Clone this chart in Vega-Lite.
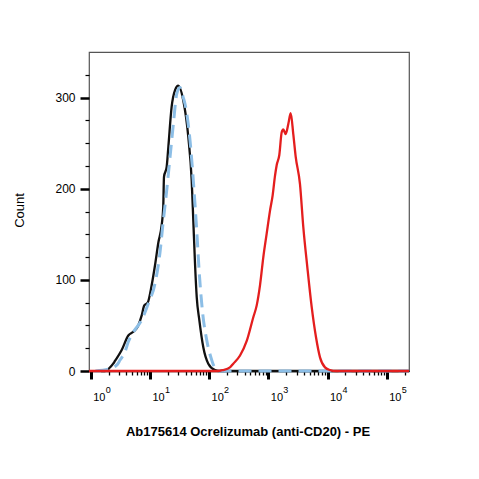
{
  "$schema": "https://vega.github.io/schema/vega-lite/v6.json",
  "width": 320,
  "height": 319,
  "autosize": {"type": "none"},
  "padding": {"left": 89, "top": 52, "right": 70, "bottom": 108},
  "background": "white",
  "config": {
    "view": {"stroke": "#555555", "strokeWidth": 1.2},
    "font": "Liberation Sans",
    "axis": {
      "grid": false,
      "labelFont": "Liberation Sans",
      "titleFont": "Liberation Sans",
      "labelColor": "#000000",
      "titleColor": "#000000",
      "tickColor": "#000000",
      "domainColor": "#000000"
    }
  },
  "data": {
    "values": [
      {"series": "Unstained", "intensity": 1.5, "count": 0},
      {"series": "Unstained", "intensity": 1.74, "count": 0},
      {"series": "Unstained", "intensity": 2.05, "count": 3},
      {"series": "Unstained", "intensity": 2.4, "count": 8},
      {"series": "Unstained", "intensity": 2.57, "count": 11},
      {"series": "Unstained", "intensity": 3.34, "count": 23},
      {"series": "Unstained", "intensity": 4.32, "count": 39},
      {"series": "Unstained", "intensity": 5.24, "count": 43},
      {"series": "Unstained", "intensity": 6.37, "count": 50},
      {"series": "Unstained", "intensity": 7.27, "count": 61},
      {"series": "Unstained", "intensity": 8.04, "count": 72},
      {"series": "Unstained", "intensity": 9.18, "count": 75},
      {"series": "Unstained", "intensity": 10.7, "count": 94},
      {"series": "Unstained", "intensity": 12.2, "count": 116},
      {"series": "Unstained", "intensity": 13.9, "count": 141},
      {"series": "Unstained", "intensity": 15.8, "count": 160},
      {"series": "Unstained", "intensity": 16.8, "count": 180},
      {"series": "Unstained", "intensity": 17.3, "count": 213},
      {"series": "Unstained", "intensity": 19.2, "count": 224},
      {"series": "Unstained", "intensity": 20.5, "count": 246},
      {"series": "Unstained", "intensity": 23.3, "count": 290},
      {"series": "Unstained", "intensity": 26.5, "count": 308},
      {"series": "Unstained", "intensity": 30.2, "count": 313},
      {"series": "Unstained", "intensity": 36.6, "count": 297},
      {"series": "Unstained", "intensity": 44.5, "count": 257},
      {"series": "Unstained", "intensity": 50.8, "count": 209},
      {"series": "Unstained", "intensity": 54.1, "count": 165},
      {"series": "Unstained", "intensity": 57.8, "count": 118},
      {"series": "Unstained", "intensity": 61.8, "count": 81},
      {"series": "Unstained", "intensity": 68.3, "count": 56},
      {"series": "Unstained", "intensity": 79.8, "count": 26},
      {"series": "Unstained", "intensity": 96.9, "count": 8},
      {"series": "Unstained", "intensity": 125.9, "count": 1},
      {"series": "Unstained", "intensity": 150, "count": 0},
      {"series": "Unstained", "intensity": 238000, "count": 0},
      {"series": "Isotype control", "intensity": 1.2, "count": 0},
      {"series": "Isotype control", "intensity": 2.0, "count": 2},
      {"series": "Isotype control", "intensity": 2.8, "count": 7},
      {"series": "Isotype control", "intensity": 3.13, "count": 12},
      {"series": "Isotype control", "intensity": 3.8, "count": 21},
      {"series": "Isotype control", "intensity": 4.32, "count": 32},
      {"series": "Isotype control", "intensity": 5.3, "count": 43},
      {"series": "Isotype control", "intensity": 7.27, "count": 56},
      {"series": "Isotype control", "intensity": 9.4, "count": 74},
      {"series": "Isotype control", "intensity": 12.2, "count": 96},
      {"series": "Isotype control", "intensity": 14.8, "count": 130},
      {"series": "Isotype control", "intensity": 16.4, "count": 158},
      {"series": "Isotype control", "intensity": 19.2, "count": 198},
      {"series": "Isotype control", "intensity": 21.9, "count": 235},
      {"series": "Isotype control", "intensity": 24.9, "count": 271},
      {"series": "Isotype control", "intensity": 28.4, "count": 304},
      {"series": "Isotype control", "intensity": 32.2, "count": 311},
      {"series": "Isotype control", "intensity": 36.6, "count": 300},
      {"series": "Isotype control", "intensity": 39.2, "count": 293},
      {"series": "Isotype control", "intensity": 47.6, "count": 253},
      {"series": "Isotype control", "intensity": 54.1, "count": 209},
      {"series": "Isotype control", "intensity": 61.8, "count": 154},
      {"series": "Isotype control", "intensity": 68.3, "count": 107},
      {"series": "Isotype control", "intensity": 78.0, "count": 63},
      {"series": "Isotype control", "intensity": 91.1, "count": 34},
      {"series": "Isotype control", "intensity": 110.7, "count": 12},
      {"series": "Isotype control", "intensity": 125.9, "count": 3},
      {"series": "Isotype control", "intensity": 150, "count": 0},
      {"series": "Isotype control", "intensity": 238000, "count": 0},
      {"series": "Ocrelizumab PE", "intensity": 0.936, "count": 0},
      {"series": "Ocrelizumab PE", "intensity": 140, "count": 0},
      {"series": "Ocrelizumab PE", "intensity": 170, "count": 1},
      {"series": "Ocrelizumab PE", "intensity": 225, "count": 4},
      {"series": "Ocrelizumab PE", "intensity": 256, "count": 8},
      {"series": "Ocrelizumab PE", "intensity": 333, "count": 17},
      {"series": "Ocrelizumab PE", "intensity": 432, "count": 33},
      {"series": "Ocrelizumab PE", "intensity": 558, "count": 59},
      {"series": "Ocrelizumab PE", "intensity": 637, "count": 72},
      {"series": "Ocrelizumab PE", "intensity": 724, "count": 94},
      {"series": "Ocrelizumab PE", "intensity": 824, "count": 125},
      {"series": "Ocrelizumab PE", "intensity": 940, "count": 151},
      {"series": "Ocrelizumab PE", "intensity": 1069, "count": 176},
      {"series": "Ocrelizumab PE", "intensity": 1186, "count": 193},
      {"series": "Ocrelizumab PE", "intensity": 1297, "count": 214},
      {"series": "Ocrelizumab PE", "intensity": 1387, "count": 226},
      {"series": "Ocrelizumab PE", "intensity": 1534, "count": 237},
      {"series": "Ocrelizumab PE", "intensity": 1684, "count": 262},
      {"series": "Ocrelizumab PE", "intensity": 1791, "count": 265},
      {"series": "Ocrelizumab PE", "intensity": 1967, "count": 260},
      {"series": "Ocrelizumab PE", "intensity": 2177, "count": 271},
      {"series": "Ocrelizumab PE", "intensity": 2388, "count": 283},
      {"series": "Ocrelizumab PE", "intensity": 2642, "count": 260},
      {"series": "Ocrelizumab PE", "intensity": 2904, "count": 235},
      {"series": "Ocrelizumab PE", "intensity": 3429, "count": 205},
      {"series": "Ocrelizumab PE", "intensity": 3900, "count": 158},
      {"series": "Ocrelizumab PE", "intensity": 4560, "count": 114},
      {"series": "Ocrelizumab PE", "intensity": 5410, "count": 70},
      {"series": "Ocrelizumab PE", "intensity": 6394, "count": 37},
      {"series": "Ocrelizumab PE", "intensity": 7468, "count": 15},
      {"series": "Ocrelizumab PE", "intensity": 9070, "count": 4},
      {"series": "Ocrelizumab PE", "intensity": 11020, "count": 1},
      {"series": "Ocrelizumab PE", "intensity": 14000, "count": 0},
      {"series": "Ocrelizumab PE", "intensity": 238000, "count": 0}
    ]
  },
  "layer": [
    {
      "transform": [{"filter": "datum.series === 'Unstained'"}],
      "mark": {"type": "line", "interpolate": "monotone", "color": "#111111", "strokeWidth": 2.3},
      "encoding": {
        "x": {
          "field": "intensity",
          "type": "quantitative",
          "scale": {"type": "log", "domain": [0.936, 238000], "nice": false},
          "axis": {
            "orient": "bottom",
            "values": [1, 10, 100, 1000, 10000, 100000],
            "labelExpr": "'10'",
            "tickSize": 8,
            "tickWidth": 3,
            "labelFontSize": 11,
            "labelAlign": "left",
            "labelOffset": 2,
            "labelBaseline": "alphabetic",
            "labelPadding": 21,
            "labelOverlap": false,
            "labelFlush": false,
            "labelBound": false,
            "domain": true,
            "domainWidth": 1.5,
            "title": "Ab175614 Ocrelizumab (anti-CD20) - PE",
            "titleFontSize": 13,
            "titleFontWeight": "bold",
            "titleX": 158.5,
            "titleY": 64.5,
            "titleAlign": "center",
            "titleBaseline": "alphabetic"
          }
        },
        "y": {
          "field": "count",
          "type": "quantitative",
          "scale": {"domain": [0, 350], "nice": false},
          "axis": {
            "orient": "left",
            "values": [0, 100, 200, 300],
            "tickSize": 9,
            "tickWidth": 2.5,
            "labelFontSize": 12,
            "labelPadding": 5,
            "domain": false,
            "title": "Count",
            "titleFontSize": 13,
            "titleFontWeight": "normal",
            "titleAngle": -90,
            "titleX": -65.7,
            "titleY": 158,
            "titleAlign": "center",
            "titleBaseline": "alphabetic"
          }
        }
      }
    },
    {
      "transform": [{"filter": "datum.series === 'Isotype control'"}],
      "mark": {"type": "line", "interpolate": "monotone", "color": "#8cbee6", "strokeWidth": 3, "strokeDash": [13, 7]},
      "encoding": {
        "x": {
          "field": "intensity",
          "type": "quantitative",
          "scale": {"type": "log", "domain": [0.936, 238000], "nice": false},
          "axis": {
            "orient": "bottom",
            "values": [2, 3, 4, 5, 6, 7, 8, 9, 20, 30, 40, 50, 60, 70, 80, 90, 200, 300, 400, 500, 600, 700, 800, 900, 2000, 3000, 4000, 5000, 6000, 7000, 8000, 9000, 20000, 30000, 40000, 50000, 60000, 70000, 80000, 90000, 200000],
            "labels": false,
            "tickSize": 4,
            "tickWidth": 1.3,
            "domain": false,
            "title": null
          }
        },
        "y": {
          "field": "count",
          "type": "quantitative",
          "scale": {"domain": [0, 350], "nice": false},
          "axis": {
            "orient": "left",
            "values": [25, 50, 75, 125, 150, 175, 225, 250, 275, 325],
            "labels": false,
            "tickSize": 4,
            "tickWidth": 1.2,
            "domain": false,
            "title": null
          }
        }
      }
    },
    {
      "transform": [{"filter": "datum.series === 'Ocrelizumab PE'"}],
      "mark": {"type": "line", "interpolate": "monotone", "color": "#e41e1e", "strokeWidth": 2.3},
      "encoding": {
        "x": {
          "field": "intensity",
          "type": "quantitative",
          "scale": {"type": "log", "domain": [0.936, 238000], "nice": false},
          "axis": {
            "orient": "bottom",
            "values": [1, 10, 100, 1000, 10000, 100000],
            "labelExpr": "'' + round(log(datum.value) / LN10)",
            "ticks": false,
            "tickSize": 0,
            "labelFontSize": 9,
            "labelAlign": "left",
            "labelOffset": 14.5,
            "labelBaseline": "alphabetic",
            "labelPadding": 21,
            "labelOverlap": false,
            "labelFlush": false,
            "labelBound": false,
            "domain": false,
            "title": null
          }
        },
        "y": {
          "field": "count",
          "type": "quantitative",
          "scale": {"domain": [0, 350], "nice": false},
          "axis": null
        }
      }
    }
  ],
  "resolve": {"axis": {"x": "independent", "y": "independent"}}
}
